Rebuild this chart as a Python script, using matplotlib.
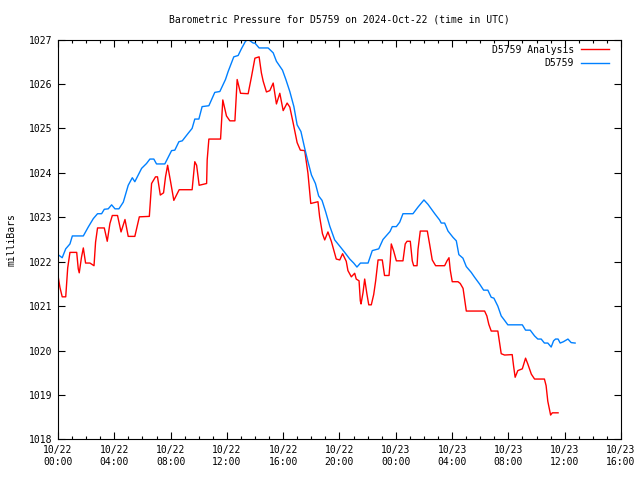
import matplotlib
matplotlib.use("Agg")
import matplotlib.pyplot as plt
from matplotlib.ticker import MultipleLocator

# hours since 2024-10-22 00:00 UTC
STATION_T = [0.0, 0.3, 0.55, 0.85, 1.02, 1.8, 2.15, 2.51, 2.81, 3.1, 3.29, 3.57, 3.81,
             4.05, 4.33, 4.64, 4.99, 5.28, 5.46, 5.94, 6.29, 6.53, 6.81, 7.0, 7.59, 8.07,
             8.3, 8.59, 8.83, 9.25, 9.53, 9.72, 10.01, 10.24, 10.72, 11.14, 11.5, 11.9,
             12.09, 12.49, 12.8, 13.03, 13.32, 13.51, 13.87, 13.99, 14.29, 14.93, 15.29,
             15.52, 15.95, 16.19, 16.47, 16.76, 16.99, 17.26, 17.53, 17.76, 18.01, 18.29,
             18.52, 18.76, 19.02, 19.31, 19.66, 20.07, 20.37, 20.73, 21.01, 21.24, 21.49,
             22.03, 22.33, 22.79, 23.09, 23.59, 23.75, 24.04, 24.28, 24.51, 25.22, 25.58,
             26.0, 26.29, 26.77, 27.11, 27.23, 27.47, 27.71, 28.06, 28.3, 28.48, 28.77,
             29.01, 29.36, 29.6, 29.95, 30.24, 30.54, 30.78, 30.97, 31.25, 31.49, 31.73,
             31.96, 32.99, 33.22, 33.55, 33.86, 34.09, 34.33, 34.56, 34.8, 35.04, 35.21,
             35.35, 35.53, 35.68, 35.91, 36.23, 36.46, 36.74]
STATION_P = [1022.16, 1022.09, 1022.29, 1022.40, 1022.58, 1022.58, 1022.78, 1022.97,
             1023.08, 1023.08, 1023.18, 1023.19, 1023.28, 1023.19, 1023.19, 1023.34,
             1023.72, 1023.89, 1023.80, 1024.10, 1024.21, 1024.31, 1024.31, 1024.20,
             1024.20, 1024.50, 1024.51, 1024.70, 1024.72, 1024.89, 1025.00, 1025.21,
             1025.21, 1025.49, 1025.51, 1025.81, 1025.83, 1026.10, 1026.28, 1026.61,
             1026.64, 1026.79, 1026.96, 1027.00, 1026.92, 1026.92, 1026.81, 1026.81,
             1026.70, 1026.51, 1026.31, 1026.10, 1025.83, 1025.49, 1025.08, 1024.93,
             1024.55, 1024.25, 1023.95, 1023.76, 1023.48, 1023.38, 1023.12, 1022.80,
             1022.49, 1022.33, 1022.21, 1022.06, 1021.97, 1021.88, 1021.97, 1021.97,
             1022.25, 1022.29, 1022.50, 1022.68, 1022.79, 1022.79, 1022.89, 1023.08,
             1023.08, 1023.23, 1023.39, 1023.29, 1023.08, 1022.94, 1022.87, 1022.87,
             1022.69, 1022.55, 1022.47, 1022.16, 1022.08, 1021.89, 1021.76, 1021.65,
             1021.50, 1021.36, 1021.36, 1021.20, 1021.18, 1021.00, 1020.78, 1020.68,
             1020.58, 1020.58, 1020.46, 1020.46, 1020.33, 1020.26, 1020.26, 1020.17,
             1020.17, 1020.08, 1020.22, 1020.26, 1020.26, 1020.17, 1020.20, 1020.26,
             1020.18, 1020.17]

ANALYSIS_T = [0.0, 0.14, 0.3, 0.55, 0.69, 0.85, 1.33, 1.44, 1.51, 1.67, 1.8, 1.96, 2.27,
              2.56, 2.67, 2.81, 3.29, 3.5, 3.69, 3.86, 4.23, 4.48, 4.76, 4.99, 5.46, 5.78,
              6.49, 6.65, 6.93, 7.07, 7.27, 7.5, 7.64, 7.79, 8.0, 8.23, 8.61, 9.53, 9.72,
              9.85, 10.03, 10.56, 10.6, 10.72, 11.55, 11.71, 11.97, 12.21, 12.57, 12.73,
              12.97, 13.51, 13.74, 13.99, 14.29, 14.45, 14.58, 14.81, 15.05, 15.29, 15.52,
              15.76, 16.0, 16.28, 16.47, 16.71, 16.99, 17.22, 17.53, 17.76, 17.96, 18.47,
              18.59, 18.79, 18.95, 19.18, 19.42, 19.77, 20.02, 20.22, 20.48, 20.6, 20.84,
              21.08, 21.19, 21.39, 21.48, 21.53, 21.67, 21.79, 21.95, 22.08, 22.26, 22.43,
              22.57, 22.74, 23.04, 23.2, 23.52, 23.61, 23.68, 23.85, 24.04, 24.51, 24.67,
              24.8, 25.03, 25.17, 25.27, 25.51, 25.58, 25.74, 26.24, 26.4, 26.59, 26.83,
              27.47, 27.64, 27.78, 27.87, 28.01, 28.42, 28.58, 28.78, 28.89, 29.01, 30.31,
              30.47, 30.61, 30.78, 31.25, 31.37, 31.49, 31.73, 32.27, 32.37, 32.48, 32.67,
              32.99, 33.22, 33.39, 33.63, 33.86, 34.56, 34.68, 34.8, 35.0, 35.12, 35.53]
ANALYSIS_P = [1021.69, 1021.42, 1021.21, 1021.21, 1021.86, 1022.21, 1022.21, 1021.84,
              1021.75, 1022.10, 1022.31, 1021.97, 1021.97, 1021.91, 1022.44, 1022.76,
              1022.76, 1022.46, 1022.86, 1023.04, 1023.04, 1022.67, 1022.95, 1022.57,
              1022.57, 1023.01, 1023.02, 1023.76, 1023.91, 1023.91, 1023.50, 1023.55,
              1023.91, 1024.17, 1023.80, 1023.38, 1023.62, 1023.62, 1024.25, 1024.17,
              1023.72, 1023.76, 1024.29, 1024.76, 1024.76, 1025.64, 1025.28, 1025.17,
              1025.17, 1026.10, 1025.79, 1025.78, 1026.15, 1026.58, 1026.61, 1026.25,
              1026.06, 1025.82, 1025.85, 1026.02, 1025.55, 1025.79, 1025.40, 1025.57,
              1025.48, 1025.12, 1024.68, 1024.51, 1024.50, 1023.99, 1023.31, 1023.35,
              1023.01, 1022.63, 1022.49, 1022.67, 1022.46, 1022.06, 1022.04, 1022.18,
              1022.01, 1021.80, 1021.66, 1021.74, 1021.61, 1021.57, 1021.12, 1021.05,
              1021.30, 1021.61, 1021.27, 1021.03, 1021.03, 1021.26, 1021.57, 1022.04,
              1022.04, 1021.69, 1021.69, 1022.02, 1022.40, 1022.24, 1022.02, 1022.02,
              1022.40, 1022.46, 1022.46, 1022.02, 1021.91, 1021.91, 1022.28, 1022.69,
              1022.69, 1022.40, 1022.04, 1021.91, 1021.91, 1022.02, 1022.09, 1021.81,
              1021.55, 1021.55, 1021.51, 1021.40, 1021.16, 1020.89, 1020.89, 1020.78,
              1020.59, 1020.44, 1020.44, 1020.18, 1019.93, 1019.90, 1019.91, 1019.65,
              1019.40, 1019.55, 1019.59, 1019.83, 1019.69, 1019.47, 1019.36, 1019.36,
              1019.21, 1018.86, 1018.55, 1018.60, 1018.60]

TICK_HOURS = [0, 4, 8, 12, 16, 20, 24, 28, 32, 36, 40]
TICK_LABELS = ["10/22\n00:00", "10/22\n04:00", "10/22\n08:00", "10/22\n12:00",
               "10/22\n16:00", "10/22\n20:00", "10/23\n00:00", "10/23\n04:00",
               "10/23\n08:00", "10/23\n12:00", "10/23\n16:00"]

plt.rcParams["font.family"] = ["DejaVu Sans Mono"]
plt.rcParams["font.size"] = 7

fig = plt.figure(figsize=(6.4, 4.8), dpi=100)
ax = fig.add_axes([0.0906, 0.0844, 0.8797, 0.8333])

ax.plot(ANALYSIS_T, ANALYSIS_P, color="#ff0000", lw=1.0, label="D5759 Analysis")
ax.plot(STATION_T, STATION_P, color="#0080ff", lw=1.0, label="D5759")

ax.set_xlim(0, 40)
ax.set_ylim(1018, 1027)
ax.set_xticks(TICK_HOURS)
ax.set_xticklabels(TICK_LABELS)
ax.xaxis.set_minor_locator(MultipleLocator(1))
ax.yaxis.set_major_locator(MultipleLocator(1))
ax.tick_params(which="both", direction="in", top=True, right=True, width=0.8,
               labelsize=7, pad=4)
ax.tick_params(which="major", length=5)
ax.tick_params(which="minor", length=2.5)
for s in ax.spines.values():
    s.set_linewidth(0.8)

ax.set_ylabel("milliBars", fontsize=7, labelpad=9)
ax.set_title("Barometric Pressure for D5759 on 2024-Oct-22 (time in UTC)",
             fontsize=7, pad=12.5)
ax.legend(loc="upper right", bbox_to_anchor=(0.9787, 0.9875), frameon=False,
          markerfirst=False, handlelength=2.9, fontsize=7, borderaxespad=0,
          borderpad=0, labelspacing=0.4, handletextpad=0.7)

fig.savefig("out.png", dpi=100)
